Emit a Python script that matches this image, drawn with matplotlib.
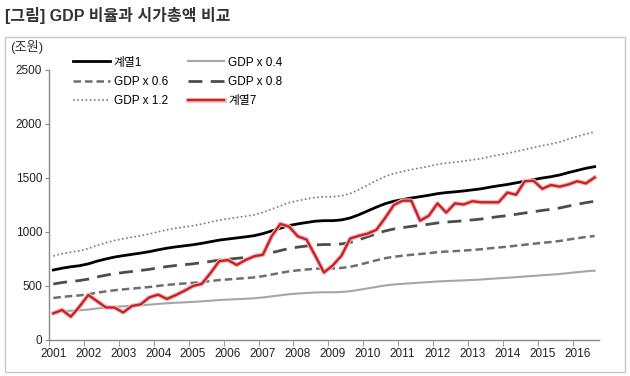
import numpy as np
import matplotlib.pyplot as plt
import matplotlib.patheffects as pe
from matplotlib.patches import Rectangle

plt.rcParams['font.family'] = ['Liberation Sans', 'Noto Sans CJK KR', 'DejaVu Sans']

# -------------------- DATOS (trimestral 2001Q1 - 2016Q3) --------------------
years = list(range(2001, 2017))

gdp = [648, 665, 678, 688, 705, 730, 750, 768, 781, 793, 805, 818,
       835, 850, 862, 872, 882, 895, 910, 925, 935, 945, 955, 966,
       985, 1010, 1035, 1060, 1075, 1088, 1100, 1105, 1105, 1112, 1130, 1160,
       1195, 1230, 1262, 1285, 1300, 1315, 1327, 1340, 1355, 1365, 1372, 1380,
       1390, 1400, 1415, 1428, 1440, 1455, 1470, 1485, 1500, 1512, 1528, 1550,
       1570, 1590, 1605]

market_cap = [247, 278, 216, 310, 417, 360, 302, 300, 255, 315, 330, 395,
              420, 380, 415, 455, 500, 520, 620, 730, 740, 695, 740, 775,
              790, 960, 1075, 1050, 960, 930, 780, 625, 690, 780, 940, 965,
              985, 1020, 1130, 1250, 1290, 1290, 1105, 1150, 1265, 1180, 1265, 1255,
              1285, 1275, 1275, 1275, 1365, 1345, 1470, 1475, 1400, 1435, 1420, 1440,
              1470, 1450, 1505]

ratios = [0.4, 0.6, 0.8, 1.2]

gdp = np.array(gdp, dtype=float)
x = np.arange(len(gdp))

# -------------------- FIGURA --------------------
fig = plt.figure(figsize=(6.3, 3.76), dpi=100)
W, H = 630, 376
ax = fig.add_axes([49 / W, 1 - 340 / H, 550 / W, 270 / H])

# marco exterior
fig.patches.append(Rectangle((5 / W, 1 - 372 / H), 620 / W, 335 / H,
                             transform=fig.transFigure, fill=False,
                             edgecolor='#c8c8c8', linewidth=1))

fig.text(5 / W, 1 - 16 / H, "[그림] GDP 비율과 시가총액 비교", fontsize=11.5,
         fontweight='bold', color='#333333', va='center', ha='left')
fig.text(10 / W, 1 - 47 / H, "(조원)", fontsize=9.5, color='#333333',
         va='center', ha='left')

l1, = ax.plot(x, gdp, color='black', linewidth=2, label='계열1')
l2, = ax.plot(x, gdp * ratios[0], color='#a6a6a6', linewidth=1.5, label='GDP x 0.4')
l3, = ax.plot(x, gdp * ratios[1], color='#6e6e6e', linewidth=1.8,
              dashes=(3, 1.6), label='GDP x 0.6')
l4, = ax.plot(x, gdp * ratios[2], color='#4d4d4d', linewidth=2,
              dashes=(5, 3), label='GDP x 0.8')
l5, = ax.plot(x, gdp * ratios[3], color='#7a7a7a', linewidth=1.2,
              dashes=(1, 1.5), label='GDP x 1.2')
l6, = ax.plot(x, market_cap, color='#c82228', linewidth=1.7, label='계열7',
              path_effects=[pe.Stroke(linewidth=3.3, foreground='#f2bcbc'), pe.Normal()])

ax.set_xlim(-0.5, len(gdp) - 0.5)
ax.set_ylim(0, 2500)
ax.set_yticks(np.arange(0, 2501, 500))
ax.set_xticks(np.arange(0, len(gdp), 4))
ax.set_xticklabels([str(y) for y in years])
ax.set_xticks(np.arange(-0.5, len(gdp), 4), minor=True)
ax.tick_params(axis='x', which='major', length=0, pad=6, labelsize=8.5,
               labelcolor='#222222')
ax.tick_params(axis='x', which='minor', length=4, color='#888888')
ax.tick_params(axis='y', length=3, color='#888888', labelsize=8.5,
               labelcolor='#222222', pad=2)

for s in ['top', 'right']:
    ax.spines[s].set_visible(False)
for s in ['left', 'bottom']:
    ax.spines[s].set_color('#888888')
    ax.spines[s].set_linewidth(1)

# leyenda por filas (orden de columnas: 1,0.6,1.2 | 0.4,0.8,7)
handles = [l1, l3, l5, l2, l4, l6]
ax.legend(handles=handles, labels=[h.get_label() for h in handles],
          loc='upper left', bbox_to_anchor=(0.025, 1.089), ncol=2, frameon=False,
          fontsize=8.5, handlelength=3.1, handletextpad=0.3, columnspacing=1.7,
          labelspacing=0.6)

fig.savefig('out.png', dpi=100)
